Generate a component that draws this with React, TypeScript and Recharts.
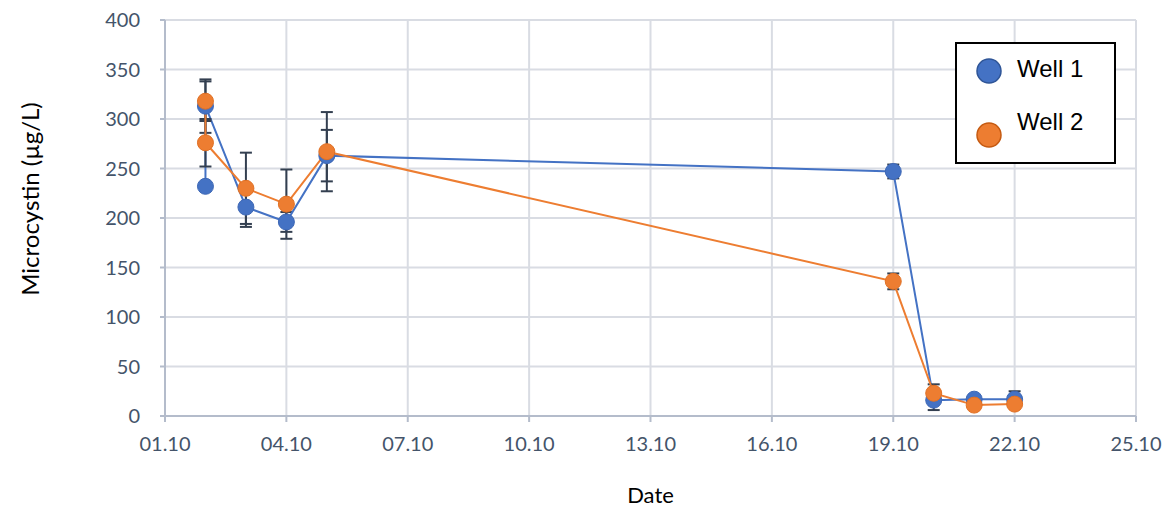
import React from "react";
import { LineChart, Line, XAxis, YAxis, CartesianGrid, ErrorBar } from "recharts";

// day of October
const well1Days = [2, 2, 3, 4, 5, 19, 20, 21, 22];
const well1Values = [232, 313, 211, 196, 263, 247, 16, 17, 17];
const well1Errors = [0, 27, 20, 10, 26, 7, 10, 3, 8];

const well2Days = [2, 2, 3, 4, 5, 19, 20, 21, 22];
const well2Values = [318, 276, 230, 214, 267, 136, 23, 11, 12];
const well2Errors = [20, 24, 36, 35, 40, 8, 9, 2, 2];

const xTicks = [1, 4, 7, 10, 13, 16, 19, 22, 25];
const yTicks = [0, 50, 100, 150, 200, 250, 300, 350, 400];

const seriesNames = ["Well 1", "Well 2"];
const BLUE = "#4472C4";
const ORANGE = "#ED7D31";
const TICK = "#44546A";
const GRID = "#D9DCE3";
const AXIS = "#B4BCCB";
const FONT = "Lato, 'Open Sans', sans-serif";

const well1 = well1Days.map((d, i) => ({ day: d, value: well1Values[i], err: well1Errors[i] }));
const well2 = well2Days.map((d, i) => ({ day: d, value: well2Values[i], err: well2Errors[i] }));

const fmtDate = (d: number) => `${String(d).padStart(2, "0")}.10`;

// legend box drawn over the chart, like the Excel one
function LegendBox() {
  const colors = [BLUE, ORANGE];
  const strokes = ["#2F5597", "#C55A11"];
  return (
    <div style={{ position: "absolute", left: 955, top: 42, border: "2px solid #000", background: "#fff", width: 161, height: 122, boxSizing: "border-box", fontFamily: "Arial, 'Liberation Sans', sans-serif", fontSize: 24, color: "#000" }}>
      {seriesNames.map((n, i) => (
        <div key={n} style={{ position: "absolute", left: 18, top: i === 0 ? 13 : 77, display: "flex", alignItems: "center" }}>
          <svg width={28} height={28} style={{ marginRight: 14 }}>
            <circle cx={14} cy={14} r={12} fill={colors[i]} stroke={strokes[i]} strokeWidth={1.5} />
          </svg>
          <span style={{ position: "relative", top: i === 0 ? -2 : -13 }}>{n}</span>
        </div>
      ))}
    </div>
  );
}

export default function App() {
  return (
    <div style={{ position: "absolute", left: 0, top: 0, width: 1172, height: 509, background: "#fff" }}>
      <LineChart width={1172} height={509} margin={{ top: 20, right: 36, left: 0, bottom: 33 }}>
        <CartesianGrid stroke={GRID} strokeWidth={2} />
        <XAxis
          type="number"
          dataKey="day"
          domain={[1, 25]}
          ticks={xTicks}
          tickFormatter={fmtDate}
          height={60}
          stroke={AXIS}
          strokeWidth={2}
          tickSize={6}
          tickMargin={15}
          tick={{ fill: TICK, fontSize: 20, fontFamily: FONT }}
          label={{
            content: ({ viewBox }: any) => (
              <text x={viewBox.x + viewBox.width / 2} y={viewBox.y + 87} textAnchor="middle" fill="#000" fontSize={22} fontFamily={FONT}>Date</text>
            ),
          }}
        />
        <YAxis
          type="number"
          domain={[0, 400]}
          ticks={yTicks}
          width={165}
          stroke={AXIS}
          strokeWidth={2}
          tickSize={5}
          tickMargin={20}
          tick={{ fill: TICK, fontSize: 20, fontFamily: FONT }}
          label={{
            content: ({ viewBox }: any) => {
              const cx = 29;
              const cy = viewBox.y + viewBox.height / 2 - 19;
              return (
                <text x={cx} y={cy} transform={`rotate(-90 ${cx} ${cy})`} textAnchor="middle" dominantBaseline="central" fill="#000" fontSize={24} fontFamily={FONT}>Microcystin (µg/L)</text>
              );
            },
          }}
        />
        <Line
          data={well1}
          dataKey="value"
          name={seriesNames[0]}
          stroke={BLUE}
          strokeWidth={2}
          dot={{ r: 8, fill: BLUE, stroke: "#3D67B5", strokeWidth: 1 }}
          activeDot={false}
          isAnimationActive={false}
        >
          <ErrorBar dataKey="err" direction="y" width={6} stroke="#333F50" strokeWidth={2} />
        </Line>
        <Line
          data={well2}
          dataKey="value"
          name={seriesNames[1]}
          stroke={ORANGE}
          strokeWidth={2}
          dot={{ r: 8, fill: ORANGE, stroke: "#E07024", strokeWidth: 1 }}
          activeDot={false}
          isAnimationActive={false}
        >
          <ErrorBar dataKey="err" direction="y" width={6} stroke="#333F50" strokeWidth={2} />
        </Line>
      </LineChart>
      <LegendBox />
    </div>
  );
}
